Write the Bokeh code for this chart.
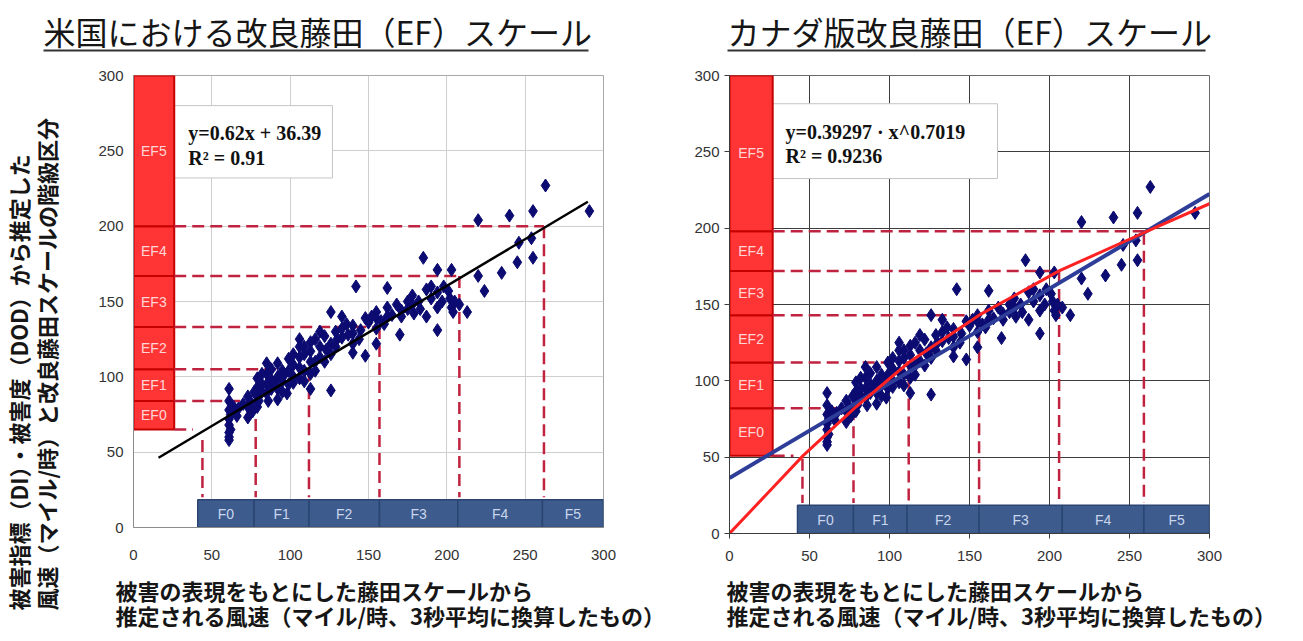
import math
from bokeh.plotting import figure
from bokeh.layouts import row, column
from bokeh.models import Range1d, FixedTicker
from bokeh.core.properties import value
from bokeh.embed import file_html
from bokeh.resources import INLINE

# ---------------- data ----------------
speed_x = [263, 291, 255, 240, 220, 246, 254, 255, 245, 235, 220, 224, 213, 185, 194, 203,
           187, 194, 201, 202, 203, 204, 194, 187, 194, 178, 178, 179, 171, 171, 170, 162,
           162, 162, 155, 155, 155, 155, 148, 148, 142, 140, 140, 140, 140, 133, 133, 133,
           126, 126, 126, 126, 119, 119, 119, 113, 113, 113, 113, 113, 106, 106, 106, 106,
           106, 99, 99, 99, 98, 92, 92, 92, 92, 85, 85, 85, 85, 79, 79, 79, 79, 73, 73, 73,
           67, 61, 61, 61, 61, 61, 61, 61, 61,
           88, 95, 102, 109, 116, 123, 130, 137, 145, 150, 158, 165, 175, 182, 190, 198,
           62, 62, 75, 82, 90, 96,
           82, 82, 88, 88, 95, 95, 95, 102, 102, 102, 109, 109, 109, 116, 116, 122, 122,
           129, 129, 136, 144, 152, 160, 168, 175, 183, 190, 197, 205, 208, 64, 66, 70, 76,
           77, 80, 86]
speed_y = [227, 210, 210, 207, 204, 189, 192, 179, 176, 169, 167, 157, 143, 179, 171, 171,
           158, 156, 157, 152, 146, 143, 146, 140, 131, 154, 148, 142, 144, 140, 128, 159,
           146, 140, 143, 139, 132, 122, 139, 114, 160, 134, 129, 122, 116, 140, 132, 126,
           143, 122, 115, 91, 130, 120, 113, 123, 117, 110, 102, 92, 125, 120, 113, 106,
           99, 112, 104, 95, 89, 109, 100, 92, 85, 109, 102, 95, 89, 99, 93, 87, 80, 87, 80, 73,
           79, 92, 84, 78, 72, 68, 63, 60, 58,
           105, 97, 108, 104, 110, 118, 125, 128, 131, 136, 137, 141, 150, 150, 152, 160,
           75, 65, 83, 90, 95, 101,
           95, 102, 92, 98, 90, 104, 100, 100, 96, 115, 97, 115, 120, 104, 125, 110, 127,
           120, 130, 135, 125, 140, 135, 148, 145, 145, 160, 150, 150, 148, 80, 74, 82, 77,
           90, 84, 84]

axis_ticks = [0, 50, 100, 150, 200, 250, 300]

ef_labels = ["EF0", "EF1", "EF2", "EF3", "EF4", "EF5"]
us_ef_edges = [65, 84, 105, 133, 167, 200, 300]
ca_ef_edges = [51, 82, 112, 143, 172, 198, 300]

f_labels = ["F0", "F1", "F2", "F3", "F4", "F5"]
us_f_edges = [41, 77, 112, 157, 207, 261, 300]
ca_f_edges = [42.5, 77.5, 111, 156, 208, 259, 300]

# dashed guide lines (EF level -> fit line -> F boundary)
us_hline_y = [65, 84, 105, 133, 167, 200]
us_hline_end = [38, 78, 112, 157, 208, 262]
us_vline_x = [44, 78, 112, 157, 208, 262]
us_vline_top = [58, 84, 105, 133, 167, 200]

ca_hline_y = [51, 82, 112, 143, 172, 198]
ca_hline_end = [40, 77.5, 112, 156, 206, 259]
ca_vline_x = [45.6, 77.5, 112, 156, 206, 259]
ca_vline_top = [49, 82, 112, 143, 172, 197]

fit_slope, fit_intercept = 0.62, 36.39
us_fit_x = [16, 290]
ca_fit_x = [0, 300]
ca_curve_x = [0, 46, 78, 112, 156, 206, 259, 300]
ca_curve_y = [0, 51, 82, 112, 143, 172, 197, 216]

us_eq = ["y=0.62x + 36.39", "R\u00b2 = 0.91"]
ca_eq = ["y=0.39297 \u00b7 x^0.7019", "R\u00b2 = 0.9236"]

us_title = "米国における改良藤田（EF）スケール"
ca_title = "カナダ版改良藤田（EF）スケール"
ylab = ["被害指標（DI）・被害度（DOD）から推定した", "風速（マイル/時）と改良藤田スケールの階級区分"]
xlab = ["被害の表現をもとにした藤田スケールから", "推定される風速（マイル/時、3秒平均に換算したもの）"]

JP = "Noto Sans CJK JP"
SANS = "Liberation Sans"
SERIF = "Liberation Serif"

EF_FILL = "#FF3535"
EF_LINE = "#C40000"
F_FILL = "#3D5B8C"
F_LINE = "#2B4573"
DASH_COL = "#C0233F"
PT_COL = "#0B0B72"
TXT = "#161616"

W_TOTAL = 1300
TOP_H = 58
LEFT_W = 66
CHART_H = 514
BOTTOM_H = 66


def strip(width, height):
    s = figure(width=width, height=height, x_range=Range1d(0, width), y_range=Range1d(0, height),
               output_backend="svg", toolbar_location=None, min_border=0,
               x_axis_location=None, y_axis_location=None)
    s.grid.visible = False
    s.outline_line_color = None
    s.background_fill_color = "white"
    s.border_fill_color = "white"
    return s


def make_fig(bl, br, bt, frame_w, frame_h, grid_col, axis_col, outline_col, tick_out, xstand, ystand):
    p = figure(frame_width=frame_w, frame_height=frame_h,
               min_border_left=bl, min_border_right=br, min_border_top=bt,
               min_border_bottom=CHART_H - bt - frame_h,
               x_range=Range1d(0, 300), y_range=Range1d(0, 300),
               output_backend="svg", toolbar_location=None)
    for ax in (p.xaxis[0], p.yaxis[0]):
        ax.ticker = FixedTicker(ticks=axis_ticks)
        ax.minor_tick_line_color = None
        ax.axis_line_color = axis_col
        ax.major_tick_line_color = axis_col if tick_out > 0 else None
        ax.major_tick_out = tick_out
        ax.major_tick_in = 0
        ax.major_label_text_font = SANS
        ax.major_label_text_font_size = "15px"
        ax.major_label_text_color = "#333333"
    p.xaxis.major_label_standoff = xstand
    p.yaxis.major_label_standoff = ystand
    p.grid.ticker = FixedTicker(ticks=axis_ticks)
    p.grid.grid_line_color = grid_col
    p.grid.grid_line_width = 1
    p.outline_line_color = outline_col
    p.outline_line_width = 1
    p.background_fill_color = "white"
    p.border_fill_color = "white"
    return p


def decorate(p, ef_edges, ef_w, f_edges, hline_y, hline_end, vline_x, vline_top,
             box, eq, eq_x, eq_y):
    p.quad(left=[box[0]], right=[box[1]], bottom=[box[2]], top=[box[3]],
           fill_color="white", line_color="#C4C4C4", line_width=1)
    p.quad(left=[0] * 6, right=[ef_w] * 6, bottom=ef_edges[:-1], top=ef_edges[1:],
           fill_color=EF_FILL, line_color=EF_LINE, line_width=2)
    p.text(x=[ef_w / 2] * 6, y=[(a + b) / 2 for a, b in zip(ef_edges[:-1], ef_edges[1:])],
           text=ef_labels, text_align="center", text_baseline="middle",
           text_font=value(SANS), text_font_size="14px", text_color="#FFD6D6")
    p.quad(left=f_edges[:-1], right=f_edges[1:], bottom=[0] * 6, top=[18.5] * 6,
           fill_color=F_FILL, line_color=F_LINE, line_width=1.5)
    p.text(x=[(a + b) / 2 for a, b in zip(f_edges[:-1], f_edges[1:])], y=[9] * 6,
           text=f_labels, text_align="center", text_baseline="middle",
           text_font=value(SANS), text_font_size="14px", text_color="#C9D6EE")
    p.segment(x0=[ef_w] * len(hline_y), y0=hline_y, x1=hline_end, y1=hline_y,
              line_color=DASH_COL, line_width=2.5, line_dash="12 6")
    p.segment(x0=vline_x, y0=vline_top, x1=vline_x, y1=[20] * len(vline_x),
              line_color=DASH_COL, line_width=2.5, line_dash="12 6")
    p.text(x=[eq_x, eq_x], y=eq_y, text=eq, text_align="left", text_baseline="middle",
           text_font=value(SERIF), text_font_style="bold", text_font_size="20px",
           text_color="#111111")


# ---------------- top strip: titles (page y 0..58) ----------------
top = strip(W_TOTAL, TOP_H)
top.text(x=[43, 727], y=[TOP_H - 30, TOP_H - 30], text=[us_title, ca_title],
         text_align="left", text_baseline="middle", text_font=value(JP),
         text_font_size="32px", text_color=TXT)
top.quad(left=[43, 727], right=[588, 1205], bottom=[TOP_H - 51, TOP_H - 51],
         top=[TOP_H - 49, TOP_H - 49], fill_color="#333333", line_color=None)

# ---------------- left strip: y label (page x 0..66, y 58..638) ----------------
LEFT_H = CHART_H + BOTTOM_H
left = strip(LEFT_W, LEFT_H)
left.text(x=[17, 45], y=[LEFT_H - (610 - TOP_H)] * 2, text=ylab, angle=math.pi / 2,
          text_align="left", text_baseline="middle", text_font=value(JP),
          text_font_style="bold", text_font_size="22px", text_color=TXT)

# ---------------- US chart: frame page x 133..603, y 75..527 ----------------
p1 = make_fig(133 - LEFT_W, 666 - 603, 75 - TOP_H, 470, 452,
              "#CFCFCF", "#8C8C8C", "#A8A8A8", 0, 22, 10)
decorate(p1, us_ef_edges, 26, us_f_edges, us_hline_y, us_hline_end, us_vline_x, us_vline_top,
         (26, 127, 232, 280), us_eq, 35, [262, 245])
p1.scatter(speed_x, speed_y, marker="diamond", size=13, color=PT_COL)
p1.line(us_fit_x, [fit_slope * v + fit_intercept for v in us_fit_x], line_color="black", line_width=2.5)

# ---------------- Canada chart: frame page x 729..1209, y 74..532 ----------------
p2 = make_fig(729 - 666, W_TOTAL - 1209, 74 - TOP_H, 480, 458,
              "#3C3C3C", "#3C3C3C", "#6A6A6A", 5, 12, 5)
decorate(p2, ca_ef_edges, 27, ca_f_edges, ca_hline_y, ca_hline_end, ca_vline_x, ca_vline_top,
         (7, 167.5, 232.5, 281.5), ca_eq, 35, [263, 247])
p2.scatter(speed_x, speed_y, marker="diamond", size=13, color=PT_COL)
p2.line(ca_fit_x, [fit_slope * v + fit_intercept for v in ca_fit_x], line_color="#2E3D98", line_width=4)
p2.line(ca_curve_x, ca_curve_y, line_color="#FF2222", line_width=3)

# ---------------- bottom strip: x labels (page x 66..1300, y 572..638) ----------------
B_TOP = TOP_H + CHART_H
bottom = strip(W_TOTAL - LEFT_W, BOTTOM_H)
bottom.text(x=[115 - LEFT_W, 115 - LEFT_W, 726 - LEFT_W, 726 - LEFT_W],
            y=[BOTTOM_H - (589 - B_TOP), BOTTOM_H - (614 - B_TOP)] * 2,
            text=[xlab[0], xlab[1], xlab[0], xlab[1]],
            text_align="left", text_baseline="middle", text_font=value(JP),
            text_font_style="bold", text_font_size="22px", text_color=TXT)

layout = column(top, row(left, column(row(p1, p2), bottom)))
open("out.html", "w").write(file_html(layout, INLINE))
